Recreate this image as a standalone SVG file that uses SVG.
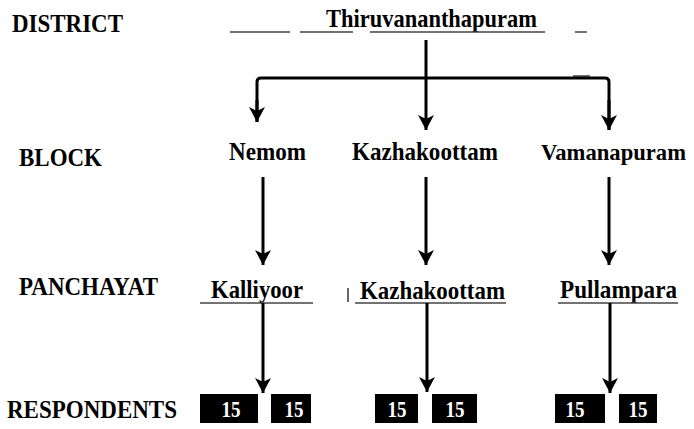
<svg xmlns="http://www.w3.org/2000/svg" width="694" height="429" viewBox="0 0 694 429">
<style>
text{font-family:"Liberation Serif","Times New Roman",Times,serif;font-weight:bold;fill:#000}
.lbl{font-size:25px}
.node{font-size:25px}
.num{font-size:23px;fill:#fff;text-anchor:middle}
.conn{stroke:#000;stroke-width:3;fill:none}
.ul{stroke:#444;stroke-width:1.6;fill:none}
.box{fill:#000}
</style>
<defs>
<marker id="arr" markerUnits="userSpaceOnUse" viewBox="0 -8 15 16" refX="15" refY="0" markerWidth="15" markerHeight="16" orient="auto">
<path d="M0,-8 L15,0 L0,8 L4,0 Z" fill="#000"/>
</marker>
</defs>

<g id="level-labels">
<text class="lbl" x="12" y="32" textLength="111" lengthAdjust="spacingAndGlyphs">DISTRICT</text>
<text class="lbl" x="19" y="166" textLength="83" lengthAdjust="spacingAndGlyphs">BLOCK</text>
<text class="lbl" x="19" y="295" textLength="139" lengthAdjust="spacingAndGlyphs">PANCHAYAT</text>
<text class="lbl" x="7" y="418" textLength="170" lengthAdjust="spacingAndGlyphs">RESPONDENTS</text>
</g>

<g id="district">
<text class="node" x="326" y="27" textLength="211" lengthAdjust="spacingAndGlyphs">Thiruvananthapuram</text>
<path class="ul" d="M230,32 H290 M300,32 H353 M370,32 H545 M575,32 H587 M573,76 H590"/>
</g>

<g id="block-nemom"><text class="node" x="229" y="160" textLength="77" lengthAdjust="spacingAndGlyphs">Nemom</text></g>
<g id="block-kazhakoottam"><text class="node" x="352" y="160" textLength="146" lengthAdjust="spacingAndGlyphs">Kazhakoottam</text></g>
<g id="block-vamanapuram"><text class="node" x="541" y="160" style="font-size:23px" textLength="145" lengthAdjust="spacingAndGlyphs">Vamanapuram</text></g>

<g id="panchayat-kalliyoor">
<text class="node" x="211" y="298" textLength="92" lengthAdjust="spacingAndGlyphs">Kalliyoor</text>
<path class="ul" d="M200,303 H313"/>
</g>
<g id="panchayat-kazhakoottam">
<text class="node" x="360" y="299" textLength="145" lengthAdjust="spacingAndGlyphs">Kazhakoottam</text>
<path class="ul" d="M355,303 H506 M348,288 V302"/>
</g>
<g id="panchayat-pullampara">
<text class="node" x="560" y="298" textLength="117" lengthAdjust="spacingAndGlyphs">Pullampara</text>
<path class="ul" d="M558,303 H678"/>
</g>

<g id="respondents-kalliyoor">
<rect class="box" x="200" y="394" width="58" height="29"/>
<text class="num" x="231" y="417" textLength="19" lengthAdjust="spacingAndGlyphs">15</text>
<rect class="box" x="271" y="394" width="40" height="29"/>
<text class="num" x="294" y="417" textLength="19" lengthAdjust="spacingAndGlyphs">15</text>
</g>
<g id="respondents-kazhakoottam">
<rect class="box" x="375" y="394" width="43" height="29"/>
<text class="num" x="397" y="417" textLength="19" lengthAdjust="spacingAndGlyphs">15</text>
<rect class="box" x="432" y="394" width="45" height="29"/>
<text class="num" x="455" y="417" textLength="19" lengthAdjust="spacingAndGlyphs">15</text>
</g>
<g id="respondents-pullampara">
<rect class="box" x="555" y="394" width="50" height="29"/>
<text class="num" x="575" y="417" textLength="19" lengthAdjust="spacingAndGlyphs">15</text>
<rect class="box" x="619" y="394" width="38" height="29"/>
<text class="num" x="638" y="417" textLength="19" lengthAdjust="spacingAndGlyphs">15</text>
</g>

<g id="connectors">
<path class="conn" d="M426,40 V130" marker-end="url(#arr)"/>
<path class="conn" d="M257,122 V82 Q257,78 261,78 H605 Q609,78 609,82 V130" />
<path class="conn" d="M257,100 V122" marker-end="url(#arr)"/>
<path class="conn" d="M609,100 V130" marker-end="url(#arr)"/>
<path class="conn" d="M263,177 V265" marker-end="url(#arr)"/>
<path class="conn" d="M426,177 V265" marker-end="url(#arr)"/>
<path class="conn" d="M609,177 V265" marker-end="url(#arr)"/>
<path class="conn" d="M263,303 V393" marker-end="url(#arr)"/>
<path class="conn" d="M427,303 V392" marker-end="url(#arr)"/>
<path class="conn" d="M610,303 V393" marker-end="url(#arr)"/>
</g>
</svg>
